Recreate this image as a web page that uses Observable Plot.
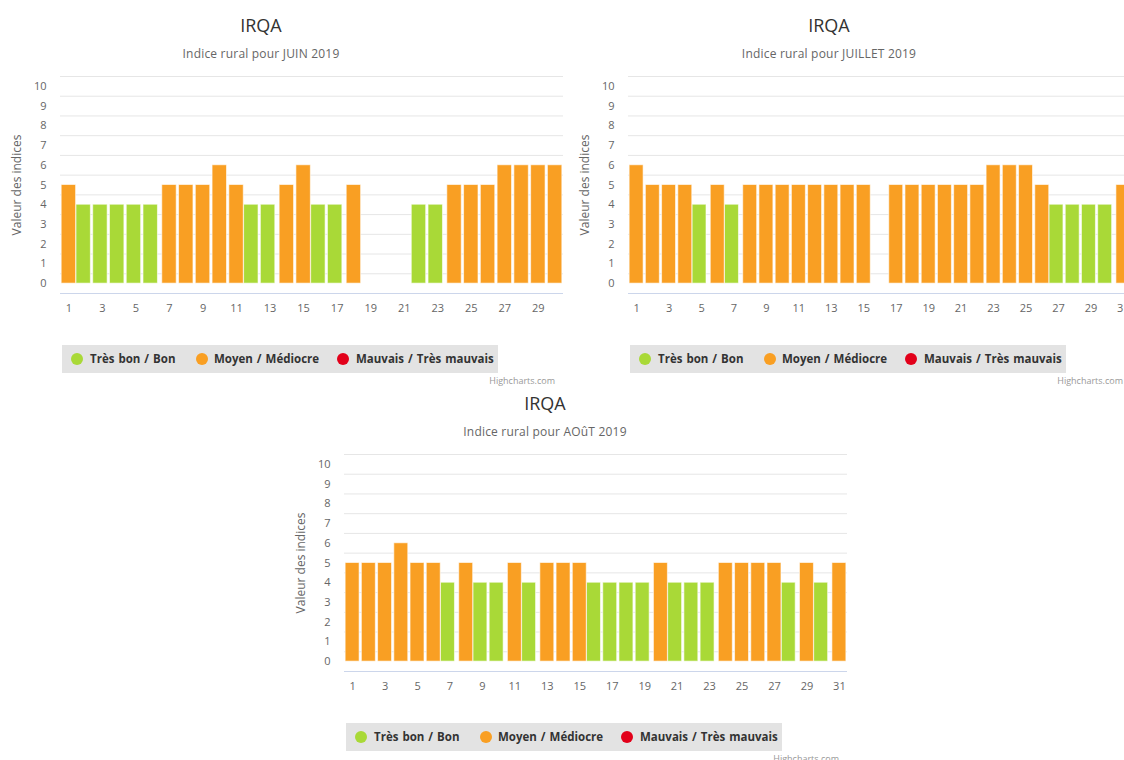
<!DOCTYPE html>
<html>
<head>
<meta charset="utf-8">
<script src="https://cdn.jsdelivr.net/npm/d3@7"></script>
<script src="https://cdn.jsdelivr.net/npm/@observablehq/plot@0.6"></script>
<style>
  body { margin: 0; background: #fff; overflow: hidden; font-family: "Open Sans", sans-serif; }
  #page { position: relative; width: 1124px; height: 760px; overflow: hidden; background: #fff; }
  .chart { position: absolute; width: 568px; height: 390px; }
  .titre { position: absolute; left: 0; width: 522px; top: 13px; line-height: 24px; text-align: center; font-size: 18px; color: #333; }
  .soustitre { position: absolute; left: 0; width: 522px; top: 46px; line-height: 16px; text-align: center; font-size: 12px; color: #666; letter-spacing: 0.2px; }
  .plotbox { position: absolute; left: 0; top: 66px; }
  .legende { position: absolute; left: 62px; top: 345px; width: 436px; height: 28px; background: #e3e3e3; overflow: hidden; }
  .item { position: absolute; top: 0; height: 28px; line-height: 28px; font-size: 11.5px; font-weight: bold; color: #333; white-space: nowrap; word-spacing: 1px; }
  .pastille { position: absolute; top: 8px; width: 12px; height: 12px; border-radius: 50%; }
  .credit { position: absolute; top: 374px; right: 13px; font-size: 9px; color: #999; }
</style>
</head>
<body>
<div id="page"></div>
<script>
// ---- Data ----
const niveaux = [0, 1, 2, 3, 4, 5, 6, 7, 8, 9, 10];
const classes = ["Très bon / Bon", "Moyen / Médiocre", "Mauvais / Très mauvais"];
const couleurs = ["#a9d937", "#f99f23", "#e2001a"];
const titres = ["IRQA", "IRQA", "IRQA"];
const sousTitres = ["Indice rural pour JUIN 2019", "Indice rural pour JUILLET 2019", "Indice rural pour AOûT 2019"];
const juin = [5, 4, 4, 4, 4, 4, 5, 5, 5, 6, 5, 4, 4, 5, 6, 4, 4, 5, null, null, null, 4, 4, 5, 5, 5, 6, 6, 6, 6];
const juillet = [6, 5, 5, 5, 4, 5, 4, 5, 5, 5, 5, 5, 5, 5, 5, null, 5, 5, 5, 5, 5, 5, 6, 6, 6, 5, 4, 4, 4, 4, 5];
const aout = [5, 5, 5, 6, 5, 5, 4, 5, 4, 4, 5, 4, 5, 5, 5, 4, 4, 4, 4, 5, 4, 4, 4, 5, 5, 5, 5, 4, 5, 4, 5];
const credit = "Highcharts.com";
const axeY = "Valeur des indices";

function classe(v) { return v <= 4 ? classes[0] : v <= 7 ? classes[1] : classes[2]; }

// ---- Layout ----
const layout = [
  { valeurs: juin, left: 0, top: 0 },
  { valeurs: juillet, left: 568, top: 0 },
  { valeurs: aout, left: 284, top: 378 }
];
const legendePos = [{ dot: 9, txt: 28 }, { dot: 134, txt: 152 }, { dot: 275, txt: 294 }];

const page = document.getElementById("page");

layout.forEach((m, k) => {
  const div = document.createElement("div");
  div.className = "chart";
  div.style.left = m.left + "px";
  div.style.top = m.top + "px";
  page.appendChild(div);

  const t = document.createElement("div"); t.className = "titre"; t.textContent = titres[k]; div.appendChild(t);
  const st = document.createElement("div"); st.className = "soustitre"; st.textContent = sousTitres[k]; div.appendChild(st);

  const jours = d3.range(1, m.valeurs.length + 1);
  const data = m.valeurs.map((v, i) => ({ jour: i + 1, valeur: v, classe: v == null ? null : classe(v) }))
    .filter(d => d.valeur != null);
  const grille = [-0.5, ...niveaux.map(v => v + 0.5)];

  const svg = Plot.plot({
    width: 568, height: 254,
    marginLeft: 60, marginRight: 5, marginTop: 10, marginBottom: 27,
    style: { fontFamily: "'Open Sans', sans-serif", fontSize: "11px", color: "#666", background: "transparent" },
    x: { type: "band", domain: jours, paddingInner: 0.14, paddingOuter: 0.07, round: false, label: null },
    y: { domain: [-0.5, 10.5], label: null },
    color: { domain: classes, range: couleurs },
    marks: [
      Plot.ruleY(grille.slice(1), { y: d => d, stroke: "#e6e6e6", strokeWidth: 1 }),
      Plot.barY(data.filter(d => d.classe === classes[0]), { x: "jour", y1: 0, y2: "valeur", fill: "classe", dx: -2, stroke: "#fff", strokeOpacity: 0.6, strokeWidth: 1 }),
      Plot.barY(data.filter(d => d.classe === classes[1]), { x: "jour", y1: 0, y2: "valeur", fill: "classe", stroke: "#fff", strokeOpacity: 0.6, strokeWidth: 1 }),
      Plot.barY(data.filter(d => d.classe === classes[2]), { x: "jour", y1: 0, y2: "valeur", fill: "classe", dx: 2, stroke: "#fff", strokeOpacity: 0.6, strokeWidth: 1 }),
      Plot.ruleY([grille[0]], { y: d => d, stroke: "#ccd6eb", strokeWidth: 1 }),
      Plot.axisX({ tickSize: 0, tickPadding: 11, tickFormat: d => (d % 2 === 1 ? String(d) : ""), fill: "#666", fontSize: 11, label: null }),
      Plot.axisY({ ticks: niveaux, tickSize: 0, tickPadding: 14, tickFormat: d => String(d), fill: "#666", fontSize: 11, label: null }),
      Plot.text([axeY], { text: d => d, frameAnchor: "left", textAnchor: "middle", rotate: -90, dx: -43, fill: "#666", fontSize: 12 })
    ]
  });
  const pb = document.createElement("div"); pb.className = "plotbox"; pb.appendChild(svg); div.appendChild(pb);

  const leg = document.createElement("div"); leg.className = "legende";
  classes.forEach((c, j) => {
    const dot = document.createElement("div"); dot.className = "pastille";
    dot.style.left = legendePos[j].dot + "px"; dot.style.background = couleurs[j];
    leg.appendChild(dot);
    const it = document.createElement("div"); it.className = "item";
    it.style.left = legendePos[j].txt + "px"; it.textContent = c;
    leg.appendChild(it);
  });
  div.appendChild(leg);

  const cr = document.createElement("div"); cr.className = "credit"; cr.textContent = credit; div.appendChild(cr);
});
</script>
</body>
</html>
